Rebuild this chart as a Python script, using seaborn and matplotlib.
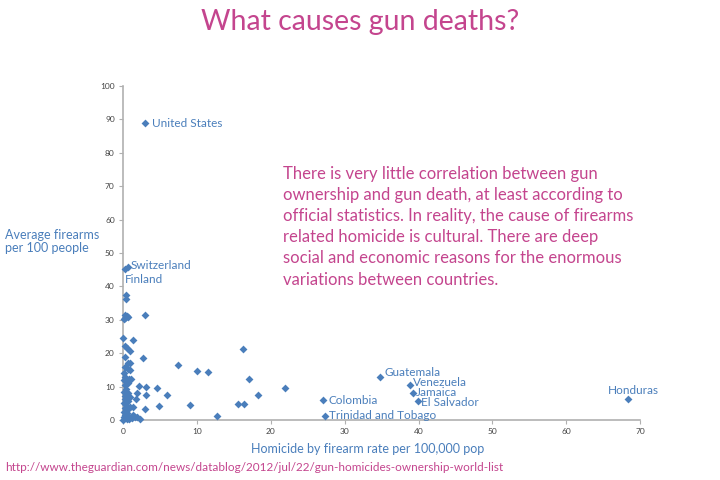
import matplotlib
matplotlib.use("Agg")
import matplotlib.pyplot as plt
import seaborn as sns
import pandas as pd

# ---- data ----
label_names = ["United States", "Switzerland", "Finland", "Guatemala", "Venezuela",
               "Jamaica", "El Salvador", "Colombia", "Trinidad and Tobago", "Honduras"]
label_homicide = [3.0, 0.6, 0.3, 34.8, 38.9, 39.3, 39.9, 27.0, 27.3, 68.4]
label_firearms = [88.8, 45.7, 45.3, 12.8, 10.5, 8.1, 5.8, 5.9, 1.3, 6.2]

other_homicide = [3.0, 1.3, 2.7, 7.4, 10.0, 11.5, 16.2, 17.1, 18.2, 21.9, 15.5, 16.4, 12.7,
                  9.0, 5.9, 4.9, 4.6, 3.1, 3.1, 2.9, 2.2, 1.9, 1.7, 1.4, 2.3,
                  0.4, 0.4, 0.1, 0.3, 0.5, 0.2, 0.6, 0.0, 0.2, 0.5, 0.9, 0.3, 0.6, 0.9,
                  0.2, 0.6, 0.9, 0.1, 0.3, 0.1, 0.5, 0.8, 1.1, 0.6, 0.2, 0.4, 0.1, 0.6,
                  0.3, 0.9, 0.2, 0.7, 0.1, 0.4, 0.9, 0.2, 0.6, 0.1, 0.5, 0.3, 0.1, 0.7,
                  0.2, 0.5, 1.0, 1.3, 1.6, 1.9, 0.8, 0.0, 1.2]
other_firearms = [31.3, 23.8, 18.5, 16.6, 14.6, 14.3, 21.4, 12.3, 7.6, 9.7, 4.9, 4.7, 1.1,
                  4.4, 7.4, 4.2, 9.6, 9.9, 7.4, 3.2, 10.3, 8.1, 6.2, 3.9, 0.4,
                  37.5, 36.2, 30.2, 30.5, 31.0, 31.3, 30.8, 24.6, 22.3, 21.6, 20.6, 19.0, 17.2, 17.0,
                  15.9, 15.2, 15.0, 14.0, 12.8, 12.0, 11.8, 12.2, 12.3, 11.0, 10.4, 9.2, 8.5, 8.0,
                  7.2, 7.0, 6.2, 5.8, 5.0, 4.5, 4.0, 3.6, 3.2, 2.5, 2.0, 1.5, 1.0, 1.1,
                  0.5, 0.3, 0.8, 1.4, 1.0, 0.8, 0.2, 0.1, 0.5]

x_ticks = [0, 10, 20, 30, 40, 50, 60, 70]
y_ticks = [0, 10, 20, 30, 40, 50, 60, 70, 80, 90, 100]

title_text = "What causes gun deaths?"
note_text = ("There is very little correlation between gun\n"
             "ownership and gun death, at least according to\n"
             "official statistics. In reality, the cause of firearms\n"
             "related homicide is cultural. There are deep\n"
             "social and economic reasons for the enormous\n"
             "variations between countries.")
x_label = "Homicide by firearm rate per 100,000 pop"
y_label = "Average firearms\nper 100 people"
source_text = "http://www.theguardian.com/news/datablog/2012/jul/22/gun-homicides-ownership-world-list"

df = pd.DataFrame({
    "homicide": label_homicide + other_homicide,
    "firearms": label_firearms + other_firearms,
})

# ---- style ----
BLUE = "#4a7ebb"
PINK = "#c4458e"
AXIS = "#b0b0b0"

sns.set_theme(style="white")
plt.rcParams["font.family"] = ["Lato", "DejaVu Sans"]

fig = plt.figure(figsize=(7.2, 4.8), dpi=100)
ax = fig.add_axes([0.171, 0.125, 0.718, 0.696])

sns.scatterplot(data=df, x="homicide", y="firearms", marker="D", s=16,
                color=BLUE, linewidth=0, ax=ax, zorder=3, clip_on=False)

ax.set_xlim(0, 70)
ax.set_ylim(0, 100)
ax.set_xticks(x_ticks)
ax.set_yticks(y_ticks)
ax.tick_params(axis="both", which="major", labelsize=6, colors="#444444",
               length=3, width=0.8, direction="out", pad=3,
               bottom=True, left=True)
ax.tick_params(axis="both", color=AXIS)
for side in ["top", "right"]:
    ax.spines[side].set_visible(False)
for side in ["left", "bottom"]:
    ax.spines[side].set_color(AXIS)
    ax.spines[side].set_linewidth(1.2)
ax.set_xlabel("")
ax.set_ylabel("")

# point labels
offsets = {
    "United States": (5, 0, "left", "center"),
    "Switzerland": (2, 1, "left", "center"),
    "Finland": (-0.5, -8, "left", "center"),
    "Guatemala": (3, 3.5, "left", "center"),
    "Venezuela": (2, 1.5, "left", "center"),
    "Jamaica": (2, 0, "left", "center"),
    "El Salvador": (2, -1.5, "left", "center"),
    "Colombia": (4, 0, "left", "center"),
    "Trinidad and Tobago": (3, 0, "left", "center"),
    "Honduras": (22, 6, "right", "center"),
}
for name, hx, fy in zip(label_names, label_homicide, label_firearms):
    dx, dy, ha, va = offsets[name]
    ax.annotate(name, xy=(hx, fy), xytext=(dx, dy), textcoords="offset points",
                ha=ha, va=va, fontsize=8.5, color=BLUE)

fig.text(0.5, 0.955, title_text, ha="center", va="center", fontsize=20.5,
         color=PINK, fontweight="normal")
fig.text(0.393, 0.655, note_text, ha="left", va="top", fontsize=12,
         color=PINK, linespacing=1.4)
fig.text(0.51, 0.064, x_label, ha="center", va="center", fontsize=9, color=BLUE)
fig.text(0.007, 0.497, y_label, ha="left", va="center", fontsize=9, color=BLUE,
         linespacing=1.15)
fig.text(0.007, 0.027, source_text, ha="left", va="center", fontsize=8.5, color=PINK)

fig.savefig("out.png", dpi=100, facecolor="white")
